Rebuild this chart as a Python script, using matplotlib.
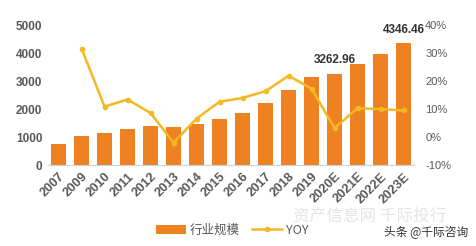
import matplotlib
matplotlib.use("Agg")
import matplotlib.pyplot as plt
from matplotlib.ticker import FuncFormatter

plt.rcParams['font.family'] = ['Noto Sans CJK SC', 'DejaVu Sans']

years = ["2007", "2009", "2010", "2011", "2012", "2013", "2014", "2015",
         "2016", "2017", "2018", "2019", "2020E", "2021E", "2022E", "2023E"]
scale = [758, 1022, 1130, 1285, 1394, 1372, 1466, 1661,
         1877, 2202, 2682, 3152, 3262.96, 3596, 3971, 4346.46]
yoy_years = years[1:]
yoy = [31.6, 10.9, 13.4, 8.6, -2.0, 6.6, 12.6, 14.0, 16.4, 21.9, 17.3,
       3.2, 10.3, 10.0, 9.5]
left_ticks = [0, 1000, 2000, 3000, 4000, 5000]
right_ticks = [-10, 0, 10, 20, 30, 40]
labelled = {"2020E": "3262.96", "2023E": "4346.46"}

bar_c = '#EE8122'
line_c = '#F4B823'
grey = '#595959'
num_font = 'Liberation Sans'

fig = plt.figure(figsize=(4.76, 2.46), dpi=100)
ax = fig.add_axes([0.1008, 0.329, 0.7692, 0.569])
x = list(range(len(years)))
ax.bar(x, scale, width=0.62, color=bar_c, label='行业规模', zorder=2)
ax.set_xlim(-0.46, len(years) - 0.54)
ax.set_ylim(0, 5000)
ax.set_yticks(left_ticks)
ax.set_yticklabels([str(t) for t in left_ticks], fontsize=8.5, fontweight='bold', color=grey,
                   family=num_font)
ax.set_xticks(x)
ax.set_xticklabels(years, rotation=45, ha='right', rotation_mode='anchor', fontsize=9.3,
                   fontweight='bold', color=grey, family=num_font)
for s in ['top', 'right', 'left']:
    ax.spines[s].set_visible(False)
ax.spines['bottom'].set_color('#C9D3E0')
ax.tick_params(axis='both', length=0, pad=4)

for i, y in enumerate(years):
    if y in labelled:
        ax.text(i, scale[i] + 260, labelled[y], ha='center', va='bottom', fontsize=8.5,
                fontweight='bold', color='#333333', family=num_font)

ax2 = ax.twinx()
xi = [years.index(y) for y in yoy_years]
ax2.plot(xi, yoy, color=line_c, lw=1.8, marker='o', ms=3, label='YOY', zorder=3)
ax2.set_ylim(-10, 40)
ax2.set_yticks(right_ticks)
ax2.yaxis.set_major_formatter(FuncFormatter(lambda v, p: f"{int(v)}%"))
for lab in ax2.get_yticklabels():
    lab.set_fontsize(8)
    lab.set_color(grey)
    lab.set_family(num_font)
for s in ['top', 'right', 'left', 'bottom']:
    ax2.spines[s].set_visible(False)
ax2.tick_params(axis='both', length=0, pad=8)

h1, l1 = ax.get_legend_handles_labels()
h2, l2 = ax2.get_legend_handles_labels()
fig.legend(h1 + h2, l1 + l2, loc='center', bbox_to_anchor=(0.487, 0.065), ncol=2,
           frameon=False, fontsize=9, handlelength=2.4, columnspacing=1.0,
           handletextpad=0.3, labelcolor=grey)

fig.text(0.777, 0.122, '资产信息网 千际投行', ha='center', va='center', fontsize=12,
         color='#E4E4E4', zorder=0)
fig.text(0.895, 0.055, '头条 @千际咨询', ha='center', va='center', fontsize=8.5,
         color='#333333')

fig.savefig('out.png', dpi=100)
